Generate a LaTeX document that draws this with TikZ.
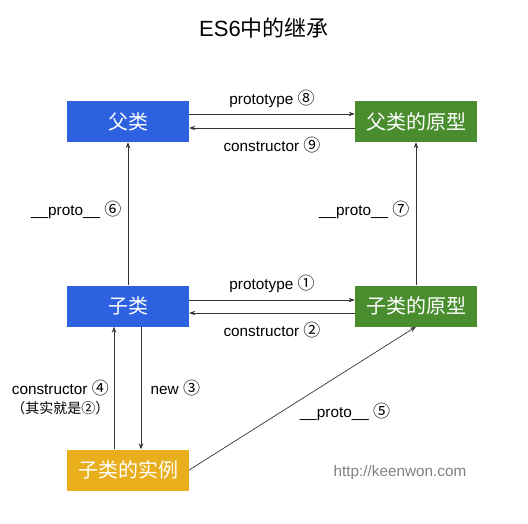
\documentclass[tikz,border=0pt]{standalone}
\usepackage{fontspec}
\setmainfont{Liberation Sans}
\newfontfamily\cjk{Noto Sans CJK SC}
\usepackage{xcolor}
\usetikzlibrary{arrows.meta}

\definecolor{fublue}{HTML}{2E61E0}
\definecolor{protogreen}{HTML}{4A8D2E}
\definecolor{instyellow}{HTML}{E9AE1C}

\newcommand{\cnum}[1]{{\cjk\fontsize{17}{18}\selectfont #1}}

\begin{document}
\begin{tikzpicture}[x=1pt,y=-1pt,
    box/.style={minimum width=122pt, minimum height=41pt, inner sep=0pt, text=white,
                font=\cjk\fontsize{20}{20}\selectfont},
    arr/.style={draw=black!80, line width=0.7pt, -{Stealth[length=6pt,width=4.5pt]}},
    lbl/.style={font=\fontsize{15.3}{19}\selectfont}]

\useasboundingbox (0,0) rectangle (528,524);

\node (title) at (264,28) {\fontsize{22}{24}\selectfont ES6\cjk 中的继承};

\node[box, fill=fublue] (fu) at (128,121.5) {父类};
\node[box, fill=protogreen] (fuproto) at (416,121.5) {父类的原型};
\node[box, fill=fublue] (zi) at (128,306) {子类};
\node[box, fill=protogreen] (ziproto) at (416,306) {子类的原型};
\node[box, fill=instyellow] (inst) at (128,470) {子类的实例};

\draw[arr] ([yshift=7.5pt]fu.east)
        -- node [midway, above=3pt, lbl] (l8) {prototype \cnum{⑧}}
      ([yshift=7.5pt]fuproto.west);
\draw[arr] ([yshift=-6.5pt]fuproto.west)
        -- node [midway, below=5pt, lbl] (l9) {constructor \cnum{⑨}}
      ([yshift=-6.5pt]fu.east);

\draw[arr] ([yshift=6pt]zi.east)
        -- node [midway, above=4pt, lbl] (l1) {prototype \cnum{①}}
      ([yshift=6pt]ziproto.west);
\draw[arr] ([yshift=-7pt]ziproto.west)
        -- node [midway, below=5pt, lbl] (l2) {constructor \cnum{②}}
      ([yshift=-7pt]zi.east);

\draw[arr] (zi.north)
        -- node [pos=0.53, left, xshift=-3pt, lbl] (l6) {\_\_proto\_\_ \cnum{⑥}}
      (fu.south);
\draw[arr] (ziproto.north)
        -- node [pos=0.53, left, xshift=-3pt, lbl] (l7) {\_\_proto\_\_ \cnum{⑦}}
      (fuproto.south);

\draw[arr] ([xshift=13pt]zi.south)
        -- node [midway, right, xshift=6pt, lbl] (l3) {new \cnum{③}}
      ([xshift=13pt]inst.north);
\draw[arr] ([xshift=-14pt]inst.north)
        -- node [pos=0.42, left, xshift=-1pt, lbl, align=center] (l4) {constructor \cnum{④}\\{\cjk\fontsize{14}{19}\selectfont （其实就是②）}}
      ([xshift=-14pt]zi.south);

\draw[arr] (inst.east)
        -- (ziproto.south);
\node[lbl] (l5) at (345,412) {\_\_proto\_\_ \cnum{⑤}};

\node[lbl, text=black!50] (site) at (400,473) {http://keenwon.com};

\end{tikzpicture}
\end{document}
